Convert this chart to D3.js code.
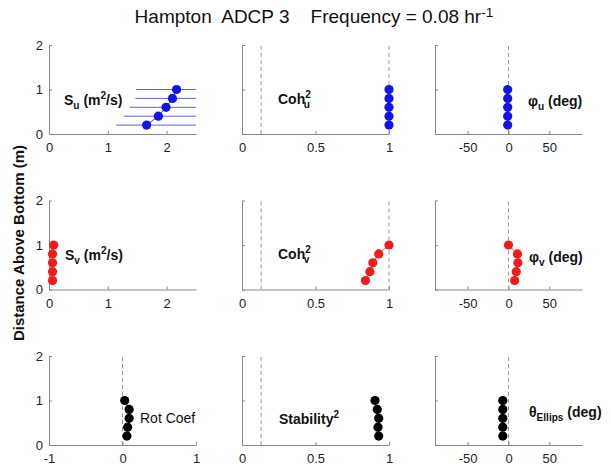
<!DOCTYPE html>
<html>
<head>
<meta charset="utf-8">
<script src="https://cdn.jsdelivr.net/npm/d3@7"></script>
<style>
  body { margin: 0; background: #fff; }
  text { font-family: "Liberation Sans", Arial, Helvetica, sans-serif; white-space: pre; }
</style>
</head>
<body>
<div id="chart"></div>
<script>
// depth of the five bins (m above bottom)
var heights = [1.0, 0.8, 0.6, 0.4, 0.2];

// top row, u component
var suVals = [2.17, 2.10, 1.99, 1.86, 1.66];
var suLower = [1.48, 1.47, 1.37, 1.27, 1.14];
var suUpper = [3.1, 3.0, 2.9, 2.7, 2.6];
var cohU = [1.0, 1.0, 1.0, 1.0, 1.0];
var phaseU = [-1, -1, -1, -1, -1];

// middle row, v component
var svVals = [0.08, 0.06, 0.06, 0.06, 0.06];
var cohV = [1.0, 0.93, 0.89, 0.87, 0.84];
var phaseV = [0, 11, 11.5, 9.5, 7.5];

// bottom row, ellipse stuff
var rotCoef = [0.03, 0.09, 0.09, 0.07, 0.06];
var stability = [0.905, 0.92, 0.93, 0.925, 0.93];
var ellipsAngle = [-7, -7, -7, -7, -7];

var cohSig = 0.13;
var heightTicks = [0, 1, 2];
var specTicks = [0, 1, 2];
var cohTicks = [0, 0.5, 1];
var degTicks = [-50, 0, 50];
var rotTicks = [-1, 0, 1];

var W = 611, H = 465;
var colX = [49, 242, 435], pw = 147;
var rowY = [45, 200.5, 356], ph = 89;

var blue = "#1414e6", red = "#ee1c1c", black = "#000";

var panels = [
  {r: 0, c: 0, dom: [0, 2.5], ticks: specTicks, vals: suVals, col: blue, lo: suLower, hi: suUpper, dashes: [],
   lab: {x: 64, y: 105, bold: true, segs: [{t: "S"}, {t: "u", sub: 1}, {t: " (m"}, {t: "2", sup: 1}, {t: "/s)"}]}},
  {r: 0, c: 1, dom: [0, 1], ticks: cohTicks, vals: cohU, col: blue, dashes: [cohSig, 1],
   lab: {x: 278, y: 104, bold: true, segs: [{t: "Coh"}, {t: "2", sup: 1}, {t: "u", sub: 1, back: 1}]}},
  {r: 0, c: 2, dom: [-90, 90], ticks: degTicks, vals: phaseU, col: blue, dashes: [0],
   lab: {x: 528, y: 106, bold: true, segs: [{t: "φ"}, {t: "u", sub: 1}, {t: " (deg)"}]}},
  {r: 1, c: 0, dom: [0, 2.5], ticks: specTicks, vals: svVals, col: red, dashes: [],
   lab: {x: 65, y: 260, bold: true, segs: [{t: "S"}, {t: "v", sub: 1}, {t: " (m"}, {t: "2", sup: 1}, {t: "/s)"}]}},
  {r: 1, c: 1, dom: [0, 1], ticks: cohTicks, vals: cohV, col: red, dashes: [cohSig, 1],
   lab: {x: 278, y: 259, bold: true, segs: [{t: "Coh"}, {t: "2", sup: 1}, {t: "v", sub: 1, back: 1}]}},
  {r: 1, c: 2, dom: [-90, 90], ticks: degTicks, vals: phaseV, col: red, dashes: [0],
   lab: {x: 529, y: 262, bold: true, segs: [{t: "φ"}, {t: "v", sub: 1}, {t: " (deg)"}]}},
  {r: 2, c: 0, dom: [-1, 1], ticks: rotTicks, vals: rotCoef, col: black, dashes: [0],
   lab: {x: 140, y: 423, bold: false, segs: [{t: "Rot Coef"}]}},
  {r: 2, c: 1, dom: [0, 1], ticks: cohTicks, vals: stability, col: black, dashes: [cohSig],
   lab: {x: 279, y: 424, bold: true, segs: [{t: "Stability"}, {t: "2", sup: 1}]}},
  {r: 2, c: 2, dom: [-90, 90], ticks: degTicks, vals: ellipsAngle, col: black, dashes: [0],
   lab: {x: 529, y: 417, bold: true, segs: [{t: "θ"}, {t: "Ellips", sub: 1}, {t: " (deg)"}]}}
];

var svg = d3.select("#chart").append("svg")
    .attr("width", W).attr("height", H);

// title
var title = svg.append("text")
    .attr("x", 314).attr("y", 23)
    .attr("text-anchor", "middle")
    .attr("font-size", 19)
    .attr("fill", "#111");
richText(title, [{t: "Hampton  ADCP 3    Frequency = 0.08 hr"}, {t: "-1", sup: 1}]);

// shared y label
svg.append("text")
    .attr("transform", "translate(24,243) rotate(-90)")
    .attr("text-anchor", "middle")
    .attr("font-size", 15)
    .attr("font-weight", "bold")
    .attr("fill", "#111")
    .text("Distance Above Bottom (m)");

function richText(sel, segs) {
    var shift = 0;
    segs.forEach(function(s) {
        var target = s.sub ? 4 : (s.sup ? -6 : 0);
        var ts = sel.append("tspan").attr("dy", target - shift).text(s.t);
        if (s.sub || s.sup) ts.attr("font-size", "0.72em");
        if (s.back) ts.attr("dx", -7);
        shift = target;
    });
}

var plain = function(d) { return String(d); };

panels.forEach(function(p, k) {
    var x0 = colX[p.c], y0 = rowY[p.r];
    var x = d3.scaleLinear().domain(p.dom).range([x0, x0 + pw]);
    var y = d3.scaleLinear().domain([0, 2]).range([y0 + ph, y0]);

    var g = svg.append("g");

    svg.append("clipPath").attr("id", "clip" + k)
      .append("rect").attr("x", x0).attr("y", y0 - 6).attr("width", pw).attr("height", ph + 12);

    // reference lines
    p.dashes.forEach(function(d) {
        g.append("line")
            .attr("x1", x(d)).attr("x2", x(d))
            .attr("y1", y(0)).attr("y2", y(2))
            .attr("stroke", "#999").attr("stroke-width", 1)
            .attr("stroke-dasharray", "4,3");
    });

    // axes
    var ax = g.append("g")
        .attr("transform", "translate(0," + y(0) + ")")
        .call(d3.axisBottom(x).tickValues(p.ticks).tickSizeInner(-3).tickSizeOuter(0).tickPadding(9)
              .tickFormat(plain));
    var ay = g.append("g")
        .attr("transform", "translate(" + x0 + ",0)")
        .call(d3.axisLeft(y).tickValues(heightTicks).tickSizeInner(-3).tickSizeOuter(0).tickPadding(6)
              .tickFormat(p.c == 0 ? plain : function() { return ""; }));
    [ax, ay].forEach(function(a) {
        a.select(".domain").attr("stroke", "#888");
        a.selectAll(".tick line").attr("stroke", "#888");
        a.selectAll(".tick text").attr("fill", "#222").attr("font-size", 13)
            .attr("font-family", "Liberation Sans, Arial, sans-serif");
    });

    var data = p.vals.map(function(v, i) { return {x: v, y: heights[i], i: i}; });

    // error bars (spectrum only)
    if (p.lo) {
        g.append("g").attr("clip-path", "url(#clip" + k + ")")
          .selectAll("line.err").data(data).enter().append("line")
            .attr("x1", function(d) { return x(p.lo[d.i]); })
            .attr("x2", function(d) { return x(p.hi[d.i]); })
            .attr("y1", function(d) { return y(d.y); })
            .attr("y2", function(d) { return y(d.y); })
            .attr("stroke", "#6464d2").attr("stroke-width", 1);
    }

    g.append("path").datum(data)
        .attr("fill", "none").attr("stroke", p.col).attr("stroke-width", 0.8)
        .attr("d", d3.line().x(function(d) { return x(d.x); }).y(function(d) { return y(d.y); }));

    g.selectAll("circle").data(data).enter().append("circle")
        .attr("cx", function(d) { return x(d.x); })
        .attr("cy", function(d) { return y(d.y); })
        .attr("r", 4.6)
        .attr("fill", p.col);

    var lt = svg.append("text")
        .attr("x", p.lab.x).attr("y", p.lab.y)
        .attr("font-size", 14)
        .attr("font-weight", p.lab.bold ? "bold" : "normal")
        .attr("fill", "#111");
    richText(lt, p.lab.segs);
});
</script>
</body>
</html>
